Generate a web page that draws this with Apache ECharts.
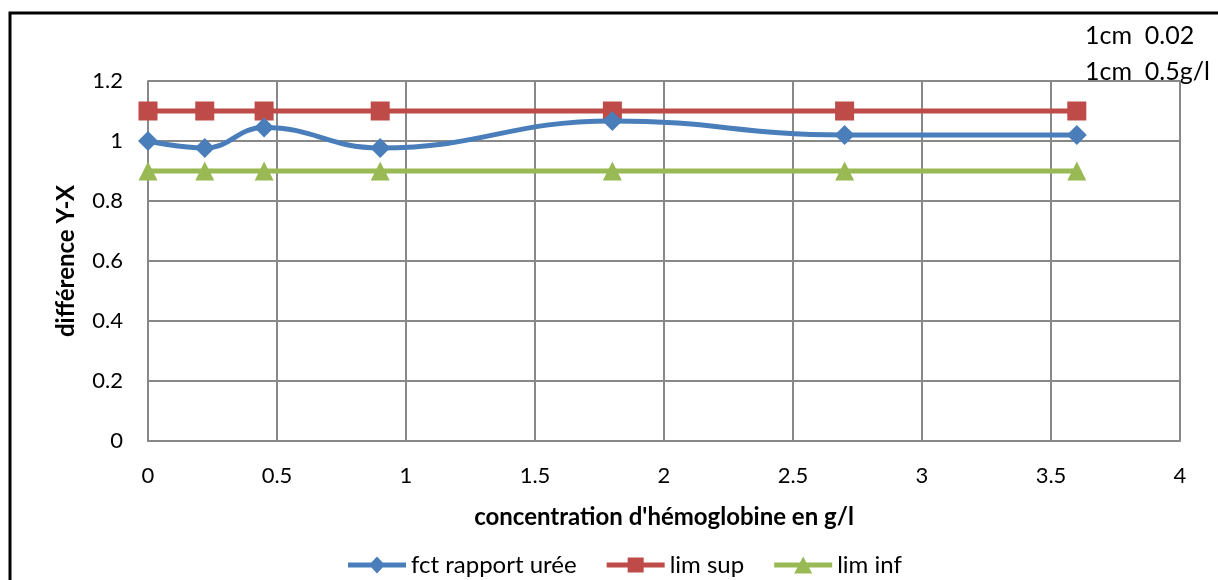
<!DOCTYPE html>
<html><head><meta charset="utf-8">
<script src="https://cdn.jsdelivr.net/npm/echarts@6/dist/echarts.min.js"></script>
<style>html,body{margin:0;padding:0;background:#fff}#c{width:1218px;height:580px}</style>
</head><body><div id="c"></div>
<script>
const xValues = [0, 0.22, 0.45, 0.9, 1.8, 2.7, 3.6];
const fctRapport = [1.0, 0.977, 1.045, 0.977, 1.067, 1.02, 1.02];
const limSup = [1.1, 1.1, 1.1, 1.1, 1.1, 1.1, 1.1];
const limInf = [0.9, 0.9, 0.9, 0.9, 0.9, 0.9, 0.9];
const seriesNames = ['fct rapport urée', 'lim sup', 'lim inf'];
const xTitle = "concentration d'hémoglobine en g/l";
const yTitle = 'différence Y-X';
const notes = ['1cm  0.02', '1cm  0.5g/l'];

const pair = arr => xValues.map((x, i) => [x, arr[i]]);
const FONT = 'Lato, "Open Sans", sans-serif';
const BAR = 'M0,6 L58,6 L58,11 L0,11 Z ';
const icons = [
  'path://' + BAR + 'M29,0 L37,8.5 L29,17 L21,8.5 Z',
  'path://' + BAR + 'M21,1 L37,1 L37,16 L21,16 Z',
  'path://' + BAR + 'M29,0 L38,17 L20,17 Z'
];
const chart = echarts.init(document.getElementById('c'));
chart.setOption({
  animation: false,
  textStyle: { fontFamily: FONT },
  grid: { left: 148, right: 38, top: 81, bottom: 139, containLabel: false },
  xAxis: {
    type: 'value', min: 0, max: 4, interval: 0.5,
    name: xTitle, nameLocation: 'middle', nameGap: 64,
    nameTextStyle: { fontFamily: FONT, fontSize: 24, fontWeight: 'bold', color: '#000' },
    axisLine: { show: true, lineStyle: { color: '#888', width: 2 } },
    axisTick: { show: false },
    axisLabel: { fontSize: 22, color: '#000', margin: 24 },
    splitLine: { show: true, lineStyle: { color: '#888', width: 2 } }
  },
  yAxis: {
    type: 'value', min: 0, max: 1.2, interval: 0.2,
    name: yTitle, nameLocation: 'middle', nameGap: 70, nameRotate: 90,
    nameTextStyle: { fontFamily: FONT, fontSize: 24, fontWeight: 'bold', color: '#000' },
    axisLine: { show: true, lineStyle: { color: '#888', width: 2 } },
    axisTick: { show: false },
    axisLabel: { fontSize: 22, color: '#000', margin: 25 },
    splitLine: { show: true, lineStyle: { color: '#888', width: 2 } }
  },
  legend: {
    left: 343, top: 548, itemGap: 30, itemWidth: 58, itemHeight: 17,
    textStyle: { fontSize: 24, color: '#000' },
    data: seriesNames.map((n, i) => ({ name: n, icon: icons[i] }))
  },
  series: [
    { name: seriesNames[0], type: 'line', smooth: 0.45, data: pair(fctRapport),
      symbol: 'diamond', symbolSize: 20, z: 3,
      lineStyle: { color: '#4A7EBB', width: 5 }, itemStyle: { color: '#4A7EBB' } },
    { name: seriesNames[1], type: 'line', data: pair(limSup),
      symbol: 'rect', symbolSize: 19, z: 2,
      lineStyle: { color: '#BE4B48', width: 5 }, itemStyle: { color: '#BE4B48' } },
    { name: seriesNames[2], type: 'line', data: pair(limInf),
      symbol: 'triangle', symbolSize: 19, z: 2,
      lineStyle: { color: '#98B954', width: 5 }, itemStyle: { color: '#98B954' } }
  ],
  graphic: [
    { type: 'rect', shape: { x: 10, y: 13, width: 1230, height: 600 },
      style: { fill: 'none', stroke: '#000', lineWidth: 3 }, silent: true },
    { type: 'text', left: 1085, top: 23, style: { text: notes[0], fontSize: 25, fontFamily: FONT, fill: '#000' } },
    { type: 'text', left: 1085, top: 59, style: { text: notes[1], fontSize: 25, fontFamily: FONT, fill: '#000' } }
  ]
});
</script></body></html>
